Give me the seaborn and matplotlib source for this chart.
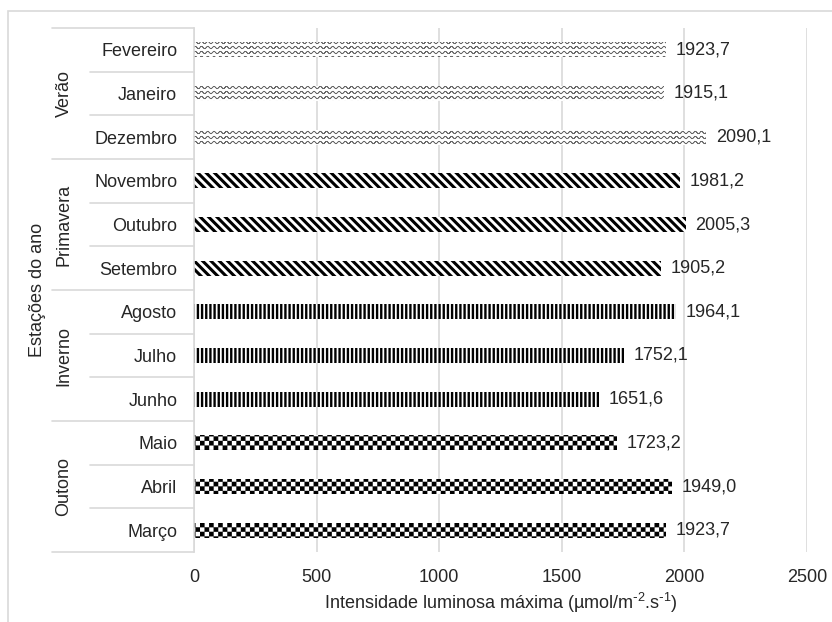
import warnings
import numpy as np
import pandas as pd
import matplotlib
matplotlib.use('Agg')
import matplotlib.pyplot as plt
import matplotlib.hatch as mhatch
import matplotlib.transforms as mtransforms
from matplotlib.path import Path
from matplotlib.patches import Rectangle
import seaborn as sns

warnings.filterwarnings('ignore')

# dados
meses = ['Março', 'Abril', 'Maio', 'Junho', 'Julho', 'Agosto',
         'Setembro', 'Outubro', 'Novembro', 'Dezembro', 'Janeiro', 'Fevereiro']
estacoes = ['Outono'] * 3 + ['Inverno'] * 3 + ['Primavera'] * 3 + ['Verão'] * 3
intensidade = [1923.7, 1949.0, 1723.2, 1651.6, 1752.1, 1964.1,
               1905.2, 2005.3, 1981.2, 2090.1, 1915.1, 1923.7]
ordem_estacoes = ['Outono', 'Inverno', 'Primavera', 'Verão']
xticks = [0, 500, 1000, 1500, 2000, 2500]


# padrões extras de preenchimento (xadrez e ondas, como no Excel)
class Xadrez(mhatch.HatchPatternBase):
    def __init__(self, hatch, density):
        self.n = 22 if '#' in hatch else 0
        self.num_vertices = (self.n * self.n // 2) * 5

    def set_vertices_and_codes(self, vertices, codes):
        d = 1.0 / self.n
        k = 0
        for i in range(self.n):
            for j in range(self.n):
                if (i + j) % 2:
                    continue
                x0, y0 = i * d, j * d
                vertices[k:k + 5] = [(x0, y0), (x0 + d, y0), (x0 + d, y0 + d),
                                     (x0, y0 + d), (x0, y0)]
                codes[k:k + 5] = [Path.MOVETO, Path.LINETO, Path.LINETO,
                                  Path.LINETO, Path.CLOSEPOLY]
                k += 5


class Ondas(mhatch.HatchPatternBase):
    def __init__(self, hatch, density):
        self.linhas = 20 if '~' in hatch else 0
        self.periodos = 16
        self.pts = 6
        self.num_vertices = self.linhas * self.periodos * self.pts * 2

    def set_vertices_and_codes(self, vertices, codes):
        nseg = self.periodos * self.pts
        x = np.linspace(0, 1, nseg + 1)
        k = 0
        for r in range(self.linhas):
            y = (r + 0.5) / self.linhas + 0.012 * np.sin(2 * np.pi * self.periodos * x)
            for s in range(nseg):
                vertices[k] = (x[s], y[s])
                vertices[k + 1] = (x[s + 1], y[s + 1])
                codes[k] = Path.MOVETO
                codes[k + 1] = Path.LINETO
                k += 2


mhatch._hatch_types.append(Xadrez)
mhatch._hatch_types.append(Ondas)

padroes = {
    'Outono': ('#', 'black', 0.1),
    'Inverno': ('||||', 'black', 1.7),
    'Primavera': ('\\' * 4, 'black', 2.2),
    'Verão': ('~', '#666666', 0.65),
}

sns.set_theme(style='white')
plt.rcParams['font.family'] = ['Liberation Sans', 'DejaVu Sans']
plt.rcParams['mathtext.default'] = 'regular'
cinza = '#d9d9d9'
texto = '#262626'
fs = 13

df = pd.DataFrame({'Mês': meses, 'Estação': estacoes, 'Intensidade': intensidade})
ordem_meses = meses[::-1]

fig = plt.figure(figsize=(8.32, 6.22), dpi=100)
ax = fig.add_axes([194 / 832, 1 - 552 / 622, (807 - 194) / 832, (552 - 28) / 622])

sns.barplot(data=df, x='Intensidade', y='Mês', hue='Estação',
            order=ordem_meses, hue_order=ordem_estacoes, dodge=False,
            palette={e: 'white' for e in ordem_estacoes}, saturation=1,
            width=0.35, edgecolor='black', linewidth=0, legend=False, ax=ax)

estacao_de = dict(zip(meses, estacoes))
for barra in ax.patches:
    i = int(round(barra.get_y() + barra.get_height() / 2))
    hatch, cor, lw = padroes[estacao_de[ordem_meses[i]]]
    barra.set_edgecolor(cor)
    barra.set_linewidth(0)
    barra.set_hatch(hatch)
    if hasattr(barra, 'set_hatch_linewidth'):
        barra.set_hatch_linewidth(lw)

for cont in ax.containers:
    rotulos = [f'{v:.1f}'.replace('.', ',') for v in cont.datavalues]
    ax.bar_label(cont, labels=rotulos, padding=7, fontsize=fs, color=texto)

ax.set_xlim(0, 2500)
ax.set_xticks(xticks)
ax.set_ylim(len(meses) - 0.5, -0.5)
ax.grid(axis='x', color=cinza, lw=1.2)
ax.set_axisbelow(True)
for lado in ['top', 'right', 'bottom']:
    ax.spines[lado].set_visible(False)
ax.spines['left'].set_color(cinza)
ax.spines['left'].set_linewidth(1.2)
ax.tick_params(axis='both', length=0, labelsize=fs, labelcolor=texto)
ax.tick_params(axis='y', pad=12)
ax.tick_params(axis='x', pad=12)
ax.set_ylabel('')
ax.set_xlabel(r'Intensidade luminosa máxima (µmol/m$^{\text{-}2}$.s$^{\text{-}1}$)',
              fontsize=fs, color=texto, labelpad=4)

# eixo hierárquico: linhas separadoras, estações e título
trans = mtransforms.blended_transform_factory(ax.transAxes, ax.transData)
x_mes = (90 - 194) / 613
x_est = (52 - 194) / 613
for i in range(len(meses) + 1):
    x0 = x_est if i % 3 == 0 else x_mes
    ax.plot([x0, 0], [i - 0.5, i - 0.5], transform=trans, clip_on=False,
            color=cinza, lw=1.2)

for est in ordem_estacoes:
    pos = [ordem_meses.index(m) for m, e in zip(meses, estacoes) if e == est]
    ax.text((64 - 194) / 613, np.mean(pos), est, transform=trans, rotation=90,
            ha='center', va='center', fontsize=fs, color=texto)

ax.text((38 - 194) / 613, 0.5, 'Estações do ano', transform=ax.transAxes,
        rotation=90, ha='center', va='center', fontsize=fs, color=texto)

fig.add_artist(Rectangle((8 / 832, -0.1), 1.2, 1 - 11 / 622 + 0.1,
                         transform=fig.transFigure, fill=False,
                         edgecolor=cinza, lw=1.2))

fig.savefig('out.png', dpi=100)
